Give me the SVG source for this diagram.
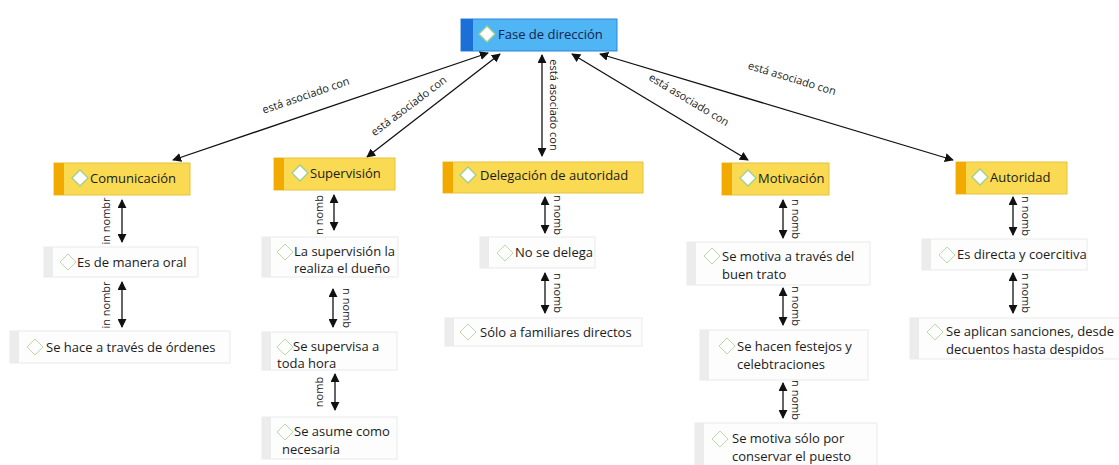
<svg xmlns="http://www.w3.org/2000/svg" width="1119" height="465" viewBox="0 0 1119 465">
<style>
  .t{font-family:"Open Sans","Noto Sans",sans-serif;font-size:13px;fill:#1b1b1b}
  .rt{font-family:"Open Sans","Noto Sans",sans-serif;font-size:13px;fill:#15234f}
  .lbl{font-family:"Open Sans","Noto Sans",sans-serif;font-size:11px;fill:#222}
  .root{fill:#4fb5f4;stroke:#2c86d8;stroke-width:1}
  .rootstrip{fill:#1c6fd6}
  .yel{fill:#f9da52;stroke:#e6c23c;stroke-width:1}
  .ystrip{fill:#f2a900}
  .wht{fill:#fdfdfd;stroke:#e9e9e9;stroke-width:1}
  .wstrip{fill:#ececec}
  .dia{fill:#ffffff;stroke:#9fcf8e;stroke-width:1.3}
  .dia2{fill:#ffffff;stroke:#b8dca8;stroke-width:1}
  .c{stroke:#111;stroke-width:1.3;fill:none;marker-start:url(#ah);marker-end:url(#ah)}
</style>
<defs>
  <marker id="ah" viewBox="0 0 10 10" refX="9" refY="5" markerWidth="9" markerHeight="9" markerUnits="userSpaceOnUse" orient="auto-start-reverse">
    <path d="M0,0 L10,5 L0,10 z" fill="#111"/>
  </marker>
</defs>
<rect width="1119" height="465" fill="#ffffff"/>

<g id="connectors">
  <line class="c" x1="488" y1="53" x2="173" y2="160"/>
  <line class="c" x1="500" y1="54" x2="367" y2="157"/>
  <line class="c" x1="542" y1="55" x2="542" y2="156"/>
  <line class="c" x1="572" y1="54" x2="748" y2="160"/>
  <line class="c" x1="600" y1="54" x2="953" y2="160"/>
  <text class="lbl" transform="translate(307,99) rotate(-19)" text-anchor="middle">está asociado con</text>
  <text class="lbl" transform="translate(411,109) rotate(-37)" text-anchor="middle">está asociado con</text>
  <text class="lbl" transform="translate(550,105) rotate(90)" text-anchor="middle">está asociado con</text>
  <text class="lbl" transform="translate(687,103) rotate(31)" text-anchor="middle">está asociado con</text>
  <text class="lbl" transform="translate(791,82) rotate(17)" text-anchor="middle">está asociado con</text>

  <line class="c" x1="122" y1="200" x2="122" y2="242"/>
  <text class="lbl" transform="translate(110,221) rotate(-90)" text-anchor="middle">in nombr</text>
  <line class="c" x1="122" y1="282" x2="122" y2="327"/>
  <text class="lbl" transform="translate(110,305) rotate(-90)" text-anchor="middle">in nombr</text>

  <line class="c" x1="334" y1="195" x2="334" y2="230"/>
  <text class="lbl" transform="translate(323,215) rotate(-90)" text-anchor="middle">n nomb</text>
  <line class="c" x1="333" y1="289" x2="333" y2="327"/>
  <text class="lbl" transform="translate(343,308) rotate(90)" text-anchor="middle">n nomb</text>
  <line class="c" x1="335" y1="374" x2="335" y2="410"/>
  <text class="lbl" transform="translate(323,392) rotate(-90)" text-anchor="middle">nomb</text>

  <line class="c" x1="545" y1="197" x2="545" y2="233"/>
  <text class="lbl" transform="translate(554,215) rotate(90)" text-anchor="middle">n nomb</text>
  <line class="c" x1="545" y1="273" x2="545" y2="313"/>
  <text class="lbl" transform="translate(554,293) rotate(90)" text-anchor="middle">n nomb</text>

  <line class="c" x1="783" y1="200" x2="783" y2="238"/>
  <text class="lbl" transform="translate(792,219) rotate(90)" text-anchor="middle">n nomb</text>
  <line class="c" x1="783" y1="288" x2="783" y2="325"/>
  <text class="lbl" transform="translate(792,306) rotate(90)" text-anchor="middle">n nomb</text>
  <line class="c" x1="783" y1="383" x2="783" y2="418"/>
  <text class="lbl" transform="translate(792,400) rotate(90)" text-anchor="middle">n nomb</text>

  <line class="c" x1="1013" y1="197" x2="1013" y2="235"/>
  <text class="lbl" transform="translate(1022,216) rotate(90)" text-anchor="middle">n nomb</text>
  <line class="c" x1="1013" y1="273" x2="1013" y2="313"/>
  <text class="lbl" transform="translate(1022,293) rotate(90)" text-anchor="middle">n nomb</text>
</g>

<g id="root">
  <rect class="root" x="461" y="19" width="156" height="32"/>
  <rect class="rootstrip" x="461" y="19" width="12" height="32"/>
  <path class="dia" d="M487,26 L495,34 L487,42 L479,34 z" stroke="#d8ecff"/>
  <text class="rt" x="498" y="39">Fase de dirección</text>
</g>

<g id="comunicacion">
  <rect class="yel" x="54" y="163" width="136" height="32"/>
  <rect class="ystrip" x="54" y="163" width="10" height="32"/>
  <path class="dia" d="M80,170 L88,178 L80,186 L72,178 z"/>
  <text class="t" x="90" y="183">Comunicación</text>
</g>
<g id="supervision">
  <rect class="yel" x="274" y="158" width="121" height="32"/>
  <rect class="ystrip" x="274" y="158" width="10" height="32"/>
  <path class="dia" d="M300,165 L308,173 L300,181 L292,173 z"/>
  <text class="t" x="310" y="178">Supervisión</text>
</g>
<g id="delegacion">
  <rect class="yel" x="443" y="162" width="200" height="31"/>
  <rect class="ystrip" x="443" y="162" width="10" height="31"/>
  <path class="dia" d="M468,167 L476,175 L468,183 L460,175 z"/>
  <text class="t" x="480" y="180">Delegación de autoridad</text>
</g>
<g id="motivacion">
  <rect class="yel" x="722" y="163" width="107" height="32"/>
  <rect class="ystrip" x="722" y="163" width="10" height="32"/>
  <path class="dia" d="M748,170 L756,178 L748,186 L740,178 z"/>
  <text class="t" x="758" y="183">Motivación</text>
</g>
<g id="autoridad">
  <rect class="yel" x="956" y="162" width="111" height="32"/>
  <rect class="ystrip" x="956" y="162" width="10" height="32"/>
  <path class="dia" d="M980,169 L988,177 L980,185 L972,177 z"/>
  <text class="t" x="990" y="182">Autoridad</text>
</g>

<g id="es-de-manera-oral">
  <rect class="wht" x="44" y="247" width="154" height="30"/>
  <rect class="wstrip" x="44" y="247" width="9" height="30"/>
  <path class="dia2" d="M68,254 L76,262 L68,270 L60,262 z"/>
  <text class="t" x="77" y="267">Es de manera oral</text>
</g>
<g id="se-hace-a-traves">
  <rect class="wht" x="10" y="331" width="220" height="32"/>
  <rect class="wstrip" x="10" y="331" width="9" height="32"/>
  <path class="dia2" d="M35,339 L43,347 L35,355 L27,347 z"/>
  <text class="t" x="46" y="352">Se hace a través de órdenes</text>
</g>

<g id="la-supervision">
  <rect class="wht" x="262" y="237" width="136" height="40"/>
  <rect class="wstrip" x="262" y="237" width="9" height="40"/>
  <path class="dia2" d="M285,244 L293,252 L285,260 L277,252 z"/>
  <text class="t" x="294" y="256">La supervisión la</text>
  <text class="t" x="294" y="273">realiza el dueño</text>
</g>
<g id="se-supervisa">
  <rect class="wht" x="262" y="332" width="135" height="38"/>
  <rect class="wstrip" x="262" y="332" width="9" height="38"/>
  <path class="dia2" d="M285,339 L293,347 L285,355 L277,347 z"/>
  <text class="t" x="293" y="351">Se supervisa a</text>
  <text class="t" x="277" y="368">toda hora</text>
</g>
<g id="se-asume">
  <rect class="wht" x="262" y="417" width="135" height="42"/>
  <rect class="wstrip" x="262" y="417" width="9" height="42"/>
  <path class="dia2" d="M285,424 L293,432 L285,440 L277,432 z"/>
  <text class="t" x="294" y="436">Se asume como</text>
  <text class="t" x="282" y="454">necesaria</text>
</g>

<g id="no-se-delega">
  <rect class="wht" x="480" y="237" width="115" height="31"/>
  <rect class="wstrip" x="480" y="237" width="9" height="31"/>
  <path class="dia2" d="M505,245 L513,253 L505,261 L497,253 z"/>
  <text class="t" x="515" y="257">No se delega</text>
</g>
<g id="solo-a-familiares">
  <rect class="wht" x="445" y="318" width="197" height="28"/>
  <rect class="wstrip" x="445" y="318" width="9" height="28"/>
  <path class="dia2" d="M468,324 L476,332 L468,340 L460,332 z"/>
  <text class="t" x="480" y="337">Sólo a familiares directos</text>
</g>

<g id="se-motiva-buen-trato">
  <rect class="wht" x="687" y="242" width="183" height="43"/>
  <rect class="wstrip" x="687" y="242" width="9" height="43"/>
  <path class="dia2" d="M712,248 L720,256 L712,264 L704,256 z"/>
  <text class="t" x="722" y="261">Se motiva a través del</text>
  <text class="t" x="722" y="279">buen trato</text>
</g>
<g id="se-hacen-festejos">
  <rect class="wht" x="700" y="330" width="168" height="50"/>
  <rect class="wstrip" x="700" y="330" width="9" height="50"/>
  <path class="dia2" d="M727,338 L735,346 L727,354 L719,346 z"/>
  <text class="t" x="737" y="351">Se hacen festejos y</text>
  <text class="t" x="737" y="369">celebtraciones</text>
</g>
<g id="se-motiva-solo">
  <rect class="wht" x="695" y="423" width="182" height="45"/>
  <rect class="wstrip" x="695" y="423" width="9" height="45"/>
  <path class="dia2" d="M720,431 L728,439 L720,447 L712,439 z"/>
  <text class="t" x="732" y="443">Se motiva sólo por</text>
  <text class="t" x="732" y="461">conservar el puesto</text>
</g>

<g id="es-directa">
  <rect class="wht" x="922" y="239" width="165" height="31"/>
  <rect class="wstrip" x="922" y="239" width="9" height="31"/>
  <path class="dia2" d="M947,247 L955,255 L947,263 L939,255 z"/>
  <text class="t" x="957" y="259">Es directa y coercitiva</text>
</g>
<g id="se-aplican">
  <rect class="wht" x="910" y="318" width="215" height="41"/>
  <rect class="wstrip" x="910" y="318" width="9" height="41"/>
  <path class="dia2" d="M935,324 L943,332 L935,340 L927,332 z"/>
  <text class="t" x="946" y="336">Se aplican sanciones, desde</text>
  <text class="t" x="946" y="354">decuentos hasta despidos</text>
</g>
</svg>
